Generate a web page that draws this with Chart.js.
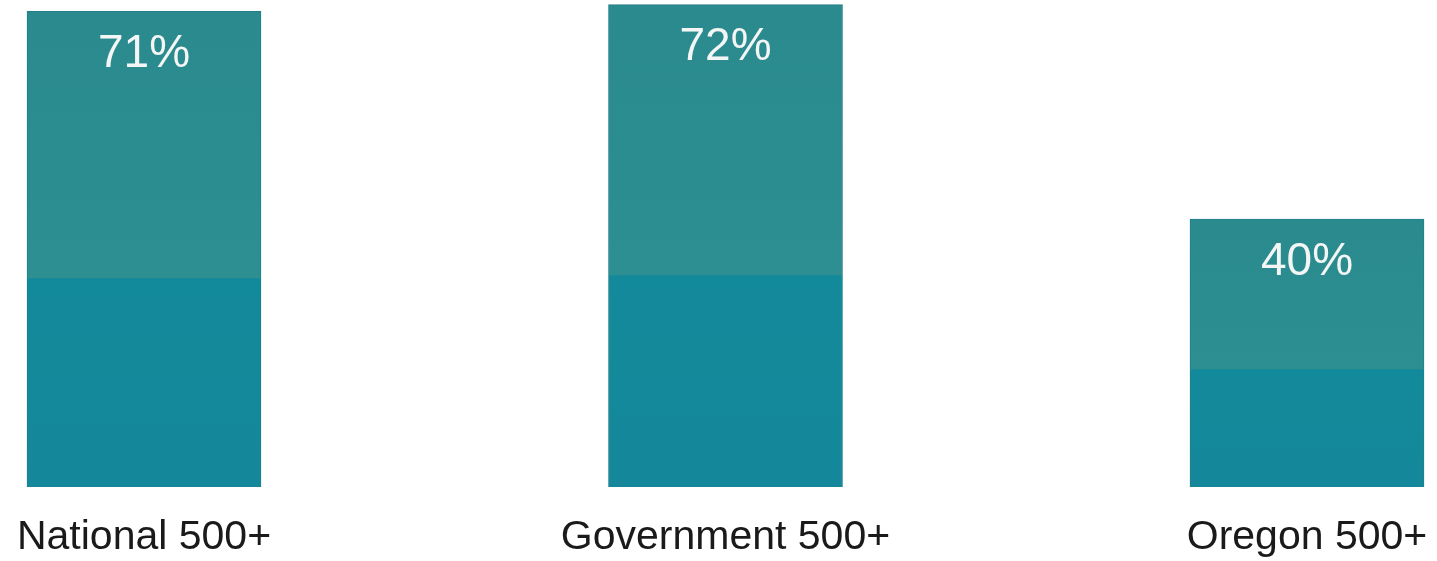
<!DOCTYPE html>
<html lang="en">
<head>
  <meta charset="UTF-8">
  <title>500+ comparison</title>
  <script src="https://cdn.jsdelivr.net/npm/chart.js"></script>
  <style>
    html, body { margin: 0; padding: 0; background: #fff; }
    #wrap { width: 1437px; height: 561px; }
  </style>
</head>
<body>
  <div id="wrap"><canvas id="chart"></canvas></div>

  <script>
    const categories = ['National 500+', 'Government 500+', 'Oregon 500+'];
    const percents = [71, 72, 40];
    const valueLabels = ['71%', '72%', '40%'];

    const FONT = 'Arial, "Liberation Sans", sans-serif';
    const fills = [];

    // two-tone fill per bar (top greyish teal, bottom bluer teal), built once scales are laid out
    const barGradients = {
      id: 'barGradients',
      afterLayout(chart) {
        const y = chart.scales.y;
        const base = y.getPixelForValue(0);
        percents.forEach((v, i) => {
          const top = y.getPixelForValue(v);
          if (!isFinite(top) || !isFinite(base)) return;
          const g = chart.ctx.createLinearGradient(0, top, 0, base);
          g.addColorStop(0, '#2a8a8e');
          g.addColorStop(0.56, '#2d8f92');
          g.addColorStop(0.562, '#138a9b');
          g.addColorStop(1, '#14889a');
          fills[i] = g;
        });
      }
    };

    // white value label inside the top of each bar
    const insideLabels = {
      id: 'insideLabels',
      afterDatasetsDraw(chart) {
        const c = chart.ctx;
        const meta = chart.getDatasetMeta(0);
        c.save();
        c.fillStyle = '#f4f6f6';
        c.font = '46px ' + FONT;
        c.textAlign = 'center';
        c.textBaseline = 'middle';
        meta.data.forEach((bar, i) => {
          c.fillText(valueLabels[i], bar.x, bar.y + 43);
        });
        c.restore();
      }
    };

    new Chart(document.getElementById('chart'), {
      type: 'bar',
      data: {
        labels: categories,
        datasets: [{
          data: percents,
          backgroundColor: ctx => fills[ctx.dataIndex] || '#228b96',
          borderColor: '#1f7f88',
          borderWidth: { left: 1, right: 1, top: 1, bottom: 0 },
          borderSkipped: false,
          barThickness: 234,
          clip: false
        }]
      },
      options: {
        responsive: true,
        maintainAspectRatio: false,
        animation: false,
        layout: { padding: { left: 144, right: 130, top: 0, bottom: 0 } },
        plugins: {
          legend: { display: false },
          tooltip: { enabled: false }
        },
        scales: {
          x: {
            offset: false,
            grid: { display: false },
            border: { display: false },
            ticks: {
              color: '#1a1a1a',
              font: { family: FONT, size: 41 },
              padding: 18,
              maxRotation: 0,
              autoSkip: false
            },
            afterFit(scale) {
              scale.height = 74;
              scale.paddingLeft = 0;
              scale.paddingRight = 0;
            }
          },
          y: {
            display: false,
            min: 0,
            max: 72.7
          }
        }
      },
      plugins: [barGradients, insideLabels]
    });
  </script>
</body>
</html>
